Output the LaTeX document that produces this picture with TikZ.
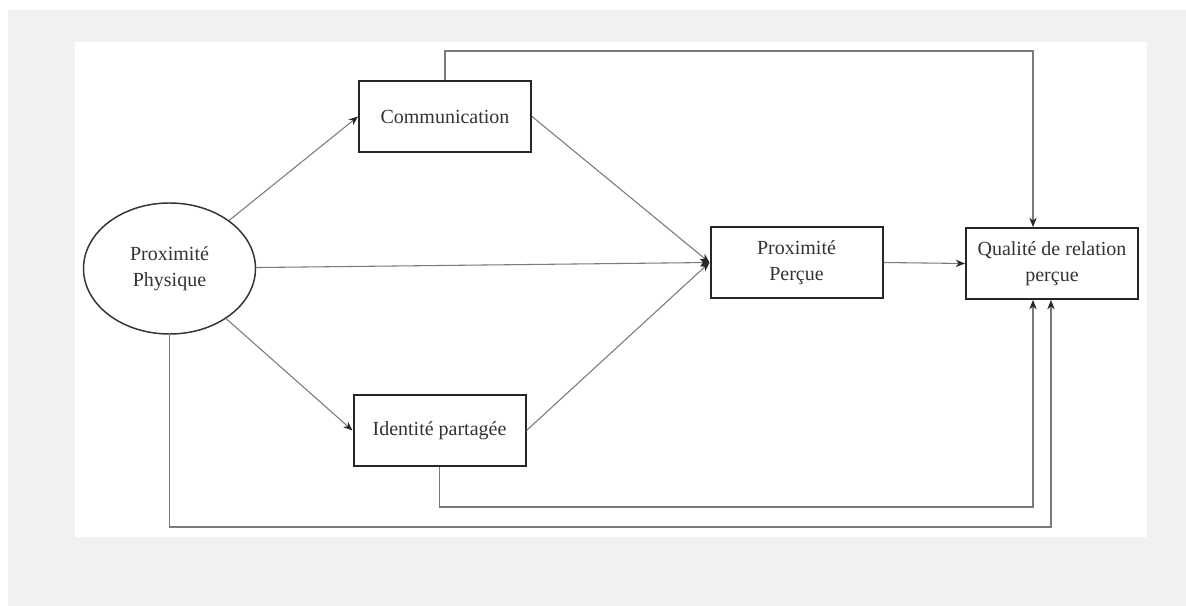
\documentclass[tikz,border=0pt]{standalone}
\usepackage{fontspec}
\setmainfont{Liberation Serif}
\usetikzlibrary{arrows.meta,shapes.geometric}
\definecolor{bggray}{HTML}{F1F1F1}
\definecolor{linegray}{HTML}{7A7A7A}
\definecolor{txtgray}{HTML}{333333}
\begin{document}
\begin{tikzpicture}[x=0.75pt,y=-0.75pt,
  every node/.style={font=\fontsize{15}{19.5}\selectfont, text=txtgray, align=center, inner sep=0pt},
  boxnode/.style={draw=black!85, line width=1.5pt, fill=white, minimum width=129pt, minimum height=53.25pt},
  ellnode/.style={ellipse, draw=black!80, line width=1.1pt, fill=white, minimum width=129pt, minimum height=98.25pt},
  conn/.style={draw=linegray, line width=0.8pt},
  arr/.style={conn, -{Stealth[length=7pt,width=5.5pt]}, arrows={[black!85]}}
]
\useasboundingbox (0,0) rectangle (1186,606);
\fill[white] (0,0) rectangle (1186,606);
\fill[bggray] (8,10) rectangle (1186,606);
\fill[white] (75,42) rectangle (1147,537);

\node[ellnode] (phys) at (169.5,268.5) {Proximité\\Physique};
\node[boxnode] (comm) at (445,116.5) {Communication};
\node[boxnode] (ident) at (439.5,430.5) {Identité partagée};
\node[boxnode] (perc) at (796.5,262.5) {Proximité\\Perçue};
\node[boxnode] (qual) at (1052,263.5) {Qualité de relation\\perçue};

\coordinate (t1) at (1033,51);
\coordinate (b1) at (1033,507);
\coordinate (b2) at (1051,527);

\draw[arr] (phys) -- (comm.west);
\draw[arr] (phys) -- (ident.west);
\draw[arr] (phys) -- (perc.west);
\draw[arr] (comm.east) -- (perc.west);
\draw[arr] (ident.east) -- (perc.west);
\draw[arr] (perc.east) -- (qual.west);
\draw[arr] (comm.north) |- (t1) -- (t1 |- qual.north);
\draw[arr] (ident.south) |- (b1) -- (b1 |- qual.south);
\draw[arr] (phys.south) |- (b2) -- (b2 |- qual.south);
\end{tikzpicture}
\end{document}
